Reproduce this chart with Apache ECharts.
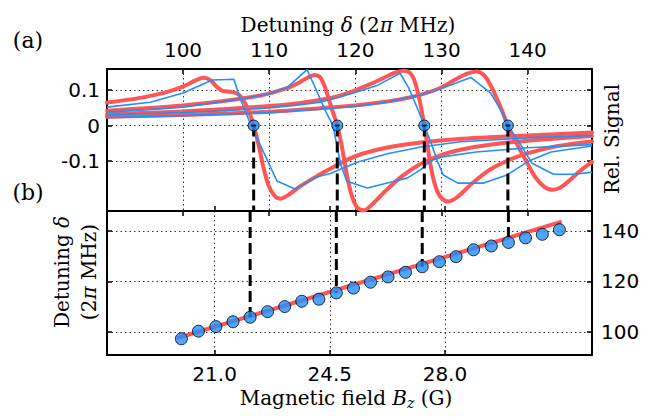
<!DOCTYPE html>
<html>
<head>
<meta charset="utf-8">
<script src="https://cdn.jsdelivr.net/npm/echarts@6/dist/echarts.min.js"></script>
<style>
  html, body { margin: 0; padding: 0; background: #fff; }
  #chart { width: 651px; height: 418px; }
</style>
</head>
<body>
<div id="chart"></div>
<script>
// ---- tick values ----
const detuningTicks = [100, 110, 120, 130, 140];
const signalTicks = [-0.1, 0, 0.1];
const fieldTicks = [21.0, 24.5, 28.0];
const resonanceTicks = [100, 120, 140];

// ---- axis limits ----
const detuningRange = [91.18, 147.46];
const signalRange = [-0.242, 0.16];
const fieldRange = [17.73, 32.47];
const resonanceRange = [91, 147.8];

// ---- (a) measured error signals, [detuning, signal] ----
const measured1 = [[91.18,0.052],[96.2,0.066],[100,0.092],[103.4,0.129],[105.9,0.131],[106.6,0.078],[107.9,0.0],[109.4,-0.078],[110.9,-0.157],[113,-0.18],[115.5,-0.146],[117.1,-0.136],[120.2,-0.104],[123.7,-0.08],[127.6,-0.061],[132.2,-0.046],[140,-0.035],[147.46,-0.028]];
const measured2 = [[91.18,0.038],[96,0.045],[100,0.052],[104,0.066],[107.5,0.078],[110,0.09],[112.1,0.108],[114.4,0.158],[115.4,0.104],[116.4,0.048],[117.4,0.0],[118.3,-0.11],[119.0,-0.158],[121.4,-0.177],[123.7,-0.163],[126,-0.149],[127.6,-0.125],[128.7,-0.1],[130.3,-0.088],[134,-0.075],[140,-0.063],[147.46,-0.054]];
const measured3 = [[91.18,0.03],[96,0.034],[100,0.037],[105,0.042],[110,0.05],[113,0.057],[115.9,0.066],[119.8,0.092],[122.5,0.113],[125.2,0.148],[126.2,0.106],[127.2,0.049],[128.0,0.0],[128.8,-0.05],[129.5,-0.1],[130.2,-0.14],[131.9,-0.163],[134.9,-0.163],[137.6,-0.14],[140,-0.102],[142.7,-0.075],[147.46,-0.058]];
const measured4 = [[91.18,0.022],[100,0.028],[105,0.032],[110,0.037],[115.9,0.046],[120,0.054],[124,0.068],[127.6,0.087],[129.9,0.104],[133.4,0.136],[135.7,0.092],[137.2,0.03],[137.7,0.0],[139.2,-0.055],[140.5,-0.107],[143,-0.138],[145.4,-0.138],[147.46,-0.132]];

// ---- (a) fitted dispersion curves ----
const fitted1 = [[91.18,0.065],[94,0.074],[96.2,0.084],[98,0.094],[100,0.11],[101.4,0.127],[102.4,0.135],[103.2,0.128],[103.9,0.11],[104.6,0.098],[105.6,0.095],[106.4,0.089],[107.1,0.068],[107.7,0.036],[108.2,0.0],[108.8,-0.058],[109.3,-0.115],[109.9,-0.168],[110.6,-0.198],[111.3,-0.207],[112.2,-0.197],[113.6,-0.172],[115.5,-0.144],[117.2,-0.121],[118.8,-0.1],[120.8,-0.08],[123.7,-0.062],[127.6,-0.048],[132,-0.038],[140,-0.028],[147.46,-0.02]];
const fitted2 = [[91.18,0.042],[95,0.048],[100,0.057],[104,0.067],[107,0.077],[109,0.085],[110.5,0.094],[112.2,0.107],[113.5,0.122],[114.5,0.136],[115.3,0.143],[115.9,0.137],[116.4,0.113],[116.9,0.076],[117.4,0.037],[117.9,0.0],[118.4,-0.055],[118.9,-0.125],[119.5,-0.192],[120.2,-0.232],[121.0,-0.24],[122.0,-0.222],[123.5,-0.185],[125.5,-0.142],[127.6,-0.108],[130,-0.083],[132.5,-0.067],[136,-0.053],[140,-0.043],[147.46,-0.03]];
const fitted3 = [[91.18,0.032],[100,0.04],[105,0.047],[110,0.055],[113,0.062],[115.9,0.072],[118,0.083],[119.8,0.098],[121.5,0.115],[122.8,0.129],[123.8,0.141],[124.8,0.151],[125.6,0.155],[126.3,0.15],[126.8,0.131],[127.2,0.098],[127.6,0.055],[128.0,0.0],[128.4,-0.062],[128.9,-0.135],[129.5,-0.186],[130.1,-0.208],[130.8,-0.215],[131.8,-0.203],[133.6,-0.163],[135.6,-0.125],[138.2,-0.094],[140.7,-0.074],[143.5,-0.058],[147.46,-0.045]];
const fitted4 = [[91.18,0.025],[100,0.03],[105,0.034],[110,0.039],[115.9,0.049],[120,0.057],[123.7,0.068],[126,0.078],[127.8,0.089],[129.9,0.107],[131.6,0.13],[132.9,0.146],[134.1,0.153],[134.9,0.143],[135.6,0.118],[136.3,0.083],[137.0,0.043],[137.7,0.0],[138.7,-0.05],[139.8,-0.1],[140.9,-0.147],[141.9,-0.173],[142.8,-0.182],[143.7,-0.177],[144.6,-0.161],[146.0,-0.13],[147.46,-0.103]];

// zero crossings of the error signals (lock points)
const zeroCrossings = [108.2, 117.9, 128.0, 137.7];

// ---- (b) lock point detuning vs magnetic field ----
const fieldB = [19.99, 20.51, 21.04, 21.56, 22.08, 22.61, 23.13, 23.65, 24.17, 24.70, 25.22, 25.74, 26.27, 26.80, 27.31, 27.83, 28.34, 28.87, 29.41, 29.93, 30.45, 30.96, 31.48];
const lockDetuning = [97.4, 100.4, 102.2, 104.1, 105.9, 108.1, 110.1, 112.2, 113.0, 115.5, 117.4, 119.7, 121.8, 123.6, 125.8, 127.8, 129.8, 132.5, 134.0, 135.4, 137.2, 138.6, 140.4];
const linearFitB = [19.85, 31.55];
const linearFitDetuning = [97.6, 143.6];
// points of (b) that belong to the four signals of (a)
const linkedPoints = [4, 9, 14, 19];

const RED = '#ff5555';
const BLUE = '#1e90ff';
const SANS = 'DejaVu Sans';
const SERIF = 'DejaVu Serif';

const frameLine = { show: true, onZero: false, lineStyle: { color: '#000', width: 2 } };
const tick = (vals) => ({ show: true, inside: true, length: 5, customValues: vals, lineStyle: { color: '#000', width: 1.5 } });
const dotted = { show: true, lineStyle: { color: '#333', width: 1, type: [1.5, 3] } };
const labelFont = { color: '#000', fontFamily: SANS, fontSize: 20 };
const noLabel = { show: false };

const fitLine = (data) => ({
  type: 'line', xAxisIndex: 0, yAxisIndex: 0, data, smooth: 0.3,
  showSymbol: false, symbol: 'none', silent: true, z: 2,
  lineStyle: { color: RED, width: 4, join: 'round', cap: 'round' }
});
const dataLine = (data) => ({
  type: 'line', xAxisIndex: 0, yAxisIndex: 0, data, showSymbol: false, symbol: 'none',
  silent: true, z: 3, lineStyle: { color: BLUE, width: 1.6 }
});
const dashStyle = { color: '#000', width: 3, type: [11, 5] };

const series = [
  ...[fitted1, fitted2, fitted3, fitted4].map(fitLine),
  ...[measured1, measured2, measured3, measured4].map(dataLine),
  // dashed links, panel (a): from each zero crossing down to the panel edge
  ...zeroCrossings.map(c => ({
    type: 'line', xAxisIndex: 0, yAxisIndex: 0, symbol: 'none', silent: true, z: 4,
    data: [[c, 0], [c, signalRange[0]]], lineStyle: dashStyle
  })),
  {
    type: 'scatter', xAxisIndex: 0, yAxisIndex: 0, silent: true, z: 5,
    data: zeroCrossings.map(c => [c, 0]), symbolSize: 11,
    itemStyle: { color: BLUE, borderColor: '#000', borderWidth: 1 }
  },
  {
    type: 'scatter', xAxisIndex: 0, yAxisIndex: 0, silent: true, z: 6,
    data: zeroCrossings.map(c => [c, 0]), symbol: 'rect', symbolSize: [5, 2],
    itemStyle: { color: '#000' }
  },
  // panel (b)
  {
    type: 'line', xAxisIndex: 2, yAxisIndex: 2, symbol: 'none', silent: true, z: 2,
    data: linearFitB.map((b, i) => [b, linearFitDetuning[i]]),
    lineStyle: { color: RED, width: 4 }
  },
  ...linkedPoints.map(i => ({
    type: 'line', xAxisIndex: 2, yAxisIndex: 2, symbol: 'none', silent: true, z: 4,
    data: [[fieldB[i], resonanceRange[1]], [fieldB[i], lockDetuning[i]]], lineStyle: dashStyle
  })),
  {
    type: 'scatter', xAxisIndex: 2, yAxisIndex: 2, silent: true, z: 5,
    data: fieldB.map((b, i) => [b, lockDetuning[i]]), symbolSize: 12,
    itemStyle: { color: BLUE, borderColor: '#000', borderWidth: 1 }
  }
];

const rich = {
  i: { fontFamily: SERIF, fontSize: 20, fontStyle: 'italic', color: '#000' },
  s: { fontFamily: SERIF, fontSize: 14, fontStyle: 'italic', color: '#000', padding: [10, 0, 0, 0] }
};
const serifText = (text, x, y, extra, size) => ({
  type: 'text', x, y, silent: true, ...(extra || {}),
  style: {
    text, fill: '#000', font: (size || 20) + 'px "' + SERIF + '"', align: 'center', verticalAlign: 'middle',
    rich, ...((extra && extra.style) || {})
  }
});

const option = {
  animation: false,
  backgroundColor: '#fff',
  grid: [
    { left: 107, right: 59, top: 69, height: 142 },
    { left: 107, right: 59, top: 211, height: 144 }
  ],
  xAxis: [
    { gridIndex: 0, type: 'value', position: 'top', min: detuningRange[0], max: detuningRange[1],
      axisLine: frameLine, axisTick: tick(detuningTicks), splitLine: dotted,
      axisLabel: { ...labelFont, margin: 9, customValues: detuningTicks } },
    { gridIndex: 0, type: 'value', position: 'bottom', min: fieldRange[0], max: fieldRange[1],
      axisLine: frameLine, axisTick: tick(fieldTicks), splitLine: { show: false }, axisLabel: noLabel },
    { gridIndex: 1, type: 'value', position: 'bottom', min: fieldRange[0], max: fieldRange[1],
      axisLine: frameLine, axisTick: tick(fieldTicks), splitLine: dotted,
      axisLabel: { ...labelFont, margin: 9, customValues: fieldTicks, formatter: v => v.toFixed(1) } },
    { gridIndex: 1, type: 'value', position: 'top', min: detuningRange[0], max: detuningRange[1],
      axisLine: frameLine, axisTick: tick(detuningTicks), splitLine: { show: false }, axisLabel: noLabel }
  ],
  yAxis: [
    { gridIndex: 0, type: 'value', position: 'left', min: signalRange[0], max: signalRange[1],
      axisLine: frameLine, axisTick: tick(signalTicks), splitLine: dotted,
      axisLabel: { ...labelFont, margin: 7, customValues: signalTicks,
        formatter: v => (Math.abs(v) < 1e-9 ? '0' : v.toFixed(1)) } },
    { gridIndex: 0, type: 'value', position: 'right', min: signalRange[0], max: signalRange[1],
      axisLine: frameLine, axisTick: tick(signalTicks), splitLine: { show: false }, axisLabel: noLabel },
    { gridIndex: 1, type: 'value', position: 'right', min: resonanceRange[0], max: resonanceRange[1],
      axisLine: frameLine, axisTick: tick(resonanceTicks), splitLine: dotted,
      axisLabel: { ...labelFont, margin: 9, customValues: resonanceTicks } },
    { gridIndex: 1, type: 'value', position: 'left', min: resonanceRange[0], max: resonanceRange[1],
      axisLine: frameLine, axisTick: tick(resonanceTicks), splitLine: { show: false }, axisLabel: noLabel }
  ],
  series,
  graphic: [
    serifText('(a)', 28, 40, null, 22),
    serifText('(b)', 28, 192, null, 22),
    serifText('Detuning {i|δ} (2{i|π} MHz)', 348, 25),
    serifText('Magnetic field {i|B}{s|z} (G)', 346, 398),
    serifText('Rel. Signal', 612, 139, { rotation: Math.PI / 2 }),
    serifText('Detuning {i|δ}\n(2{i|π} MHz)', 75, 272, { rotation: Math.PI / 2, style: { lineHeight: 27 } })
  ]
};

const chart = echarts.init(document.getElementById('chart'), null, { renderer: 'svg' });
chart.setOption(option);
</script>
</body>
</html>
